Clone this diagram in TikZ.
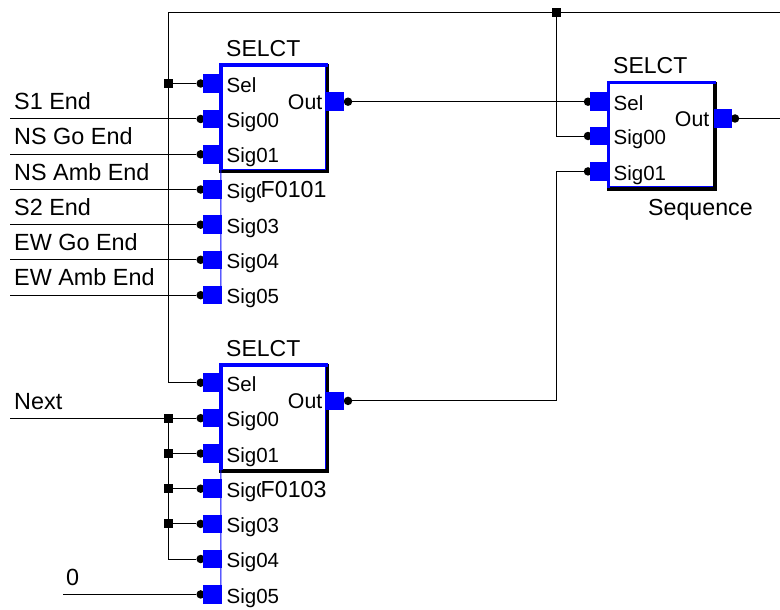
\documentclass[tikz,border=0pt]{standalone}
\usepackage{fontspec}
\setmainfont{Liberation Sans}
\usetikzlibrary{calc,positioning}
\definecolor{PortBlue}{HTML}{0000FF}
\definecolor{Ink}{HTML}{000000}
\tikzset{
  block/.style={
    rectangle, draw=PortBlue, line width=0.8pt, fill=white,
    minimum width=104.8pt, minimum height=104pt, inner sep=0pt, outer sep=0pt
  },
  port/.style={
    rectangle, fill=PortBlue, minimum size=18.5pt, inner sep=0pt, outer sep=0pt
  },
  tip/.style={
    circle, fill=Ink, minimum size=8.5pt, inner sep=0pt, outer sep=0pt
  },
  junction/.style={
    rectangle, fill=Ink, minimum size=9pt, inner sep=0pt, outer sep=0pt
  },
  pinlabel/.style={anchor=base west, inner sep=0pt, font=\fontsize{20.5}{24}\selectfont},
  outlabel/.style={anchor=base east, inner sep=0pt, font=\fontsize{21.3}{24}\selectfont},
  title/.style={anchor=base west, inner sep=0pt, font=\fontsize{23}{26}\selectfont},
  signal/.style={anchor=base west, inner sep=0pt, font=\fontsize{23.4}{26}\selectfont},
  blockname/.style={anchor=base west, inner sep=0pt, font=\fontsize{23.2}{26}\selectfont},
  coverplate/.style={fill=white, text height=17pt, text depth=6pt},
  wire/.style={line width=1pt, draw=Ink},
  blueedge/.style={line width=3.4pt, draw=PortBlue},
  blackedge/.style={line width=3.6pt, draw=Ink},
  tail/.style={line width=1pt, draw=PortBlue}
}

\begin{document}
\begin{tikzpicture}[x=1pt,y=-1pt]
    \useasboundingbox (0,0) rectangle (780,610);
    % blocks
    \node[block] (blockA) at (273.2,117.2) {};
    \node[block] (blockB) at (273.2,416.9) {};
    \node[block] (blockC) at (661,134.8) {};
    \foreach \b in {A,B,C} {
      \draw[blackedge] ([shift={(1.8,-1)}]block\b.north east)
        -- ([shift={(1.8,2.2)}]block\b.south east)
        -- ([shift={(-1.5,2.2)}]block\b.south west);
      \draw[blueedge] ([shift={(0,1)}]block\b.south west)
        -- ([shift={(0,0)}]block\b.north west)
        -- ([shift={(2.5,0)}]block\b.north east);
    }
    \coordinate (tailA) at (221,295.5);
    \coordinate (tailB) at (221,594.5);
    \draw[tail] (blockA.south west) -- (tailA);
    \draw[tail] (blockB.south west) -- (tailB);
    % pins of the two long blocks
    \foreach \b/\dy in {A/0,B/299.2} {
      \foreach \n/\y/\t in {sel/83.5/Sel,s0/119/Sig00,s1/154.3/Sig01,s2/189.5/Sig02,
                            s3/224.7/Sig03,s4/259.8/Sig04,s5/295.2/Sig05} {
        \node[tip] (\b\n) at (200.7,\y+\dy) {};
        \node[port] (p\b\n) at (212.7,\y+\dy) {};
        \node[pinlabel] (l\b\n) at (226.5,\y+\dy+8.6) {\t};
      }
      \node[tip] (\b out) at (348,101.7+\dy) {};
      \node[port] (p\b out) at (335,101.7+\dy) {};
      \node[outlabel] (l\b out) at (322.5,109.5+\dy) {Out};
    }
    % pins of the short block
    \foreach \n/\y/\t in {sel/101.7/Sel,s0/136/Sig00,s1/171.4/Sig01} {
      \node[tip] (C\n) at (588,\y) {};
      \node[port] (pC\n) at (599.7,\y) {};
      \node[pinlabel] (lC\n) at (613.5,\y+8.6) {\t};
    }
    \node[tip] (Cout) at (735,118.5) {};
    \node[port] (pCout) at (723,118.5) {};
    \node[outlabel] (lCout) at (709.5,126.5) {Out};
    % names
    \node[title] (titleA) at (226,57) {SELCT};
    \node[title] (titleB) at (226,356) {SELCT};
    \node[title] (titleC) at (613,74) {SELCT};
    \node[blockname,coverplate] (nameA) at (260.5,197) {F0101};
    \node[blockname,coverplate] (nameB) at (260.5,497) {F0103};
    \node[blockname] (nameC) at (648,215) {Sequence};
    % junctions
    \node[junction] (jtop) at (556,13) {};
    \node[junction] (jsel) at (168,83.5) {};
    \node[junction] (jb0) at (168,418.2) {};
    \node[junction] (jb1) at (168,453.5) {};
    \node[junction] (jb2) at (168,488.7) {};
    \node[junction] (jb3) at (168,523.9) {};
    % free ends
    \coordinate (corner) at (168,13);
    \coordinate (eastTop) at (780,13);
    \coordinate (eastOut) at (780,118.5);
    \coordinate (inNext) at (10,418.2);
    \coordinate (inZero) at (63,594.4);
    \coordinate (bendIn) at (556,171.4);
    \coordinate (bendOut) at (556,400.9);
    % signals
    \foreach \n/\y/\t in {s0/119/S1 End,s1/154.3/NS Go End,s2/189.5/NS Amb End,
                          s3/224.7/S2 End,s4/259.8/EW Go End,s5/295.2/EW Amb End} {
      \coordinate (in\n) at (10,\y);
      \node[signal] (lab\n) at (14,\y-9.5) {\t};
      \draw[wire] (in\n) -- (A\n);
    }
    \node[signal] (labnext) at (14,409) {Next};
    \node[signal] (labzero) at (66,585) {0};
    % wires
    \draw[wire] (Bsel) -| (corner) -- (eastTop);
    \draw[wire] (jsel) -- (Asel);
    \draw[wire] (jtop) |- (Cs0);
    \draw[wire] (Aout) -- (Csel);
    \draw[wire] (Bout) -- (bendOut) -- (bendIn) -- (Cs1);
    \draw[wire] (Cout) -- (eastOut);
    \draw[wire] (inNext) -- (Bs0);
    \draw[wire] (jb1) -- (Bs1);
    \draw[wire] (jb2) -- (Bs2);
    \draw[wire] (jb3) -- (Bs3);
    \draw[wire] (jb0) |- (Bs4);
    \draw[wire] (inZero) -- (Bs5);
  \end{tikzpicture}
\end{document}
